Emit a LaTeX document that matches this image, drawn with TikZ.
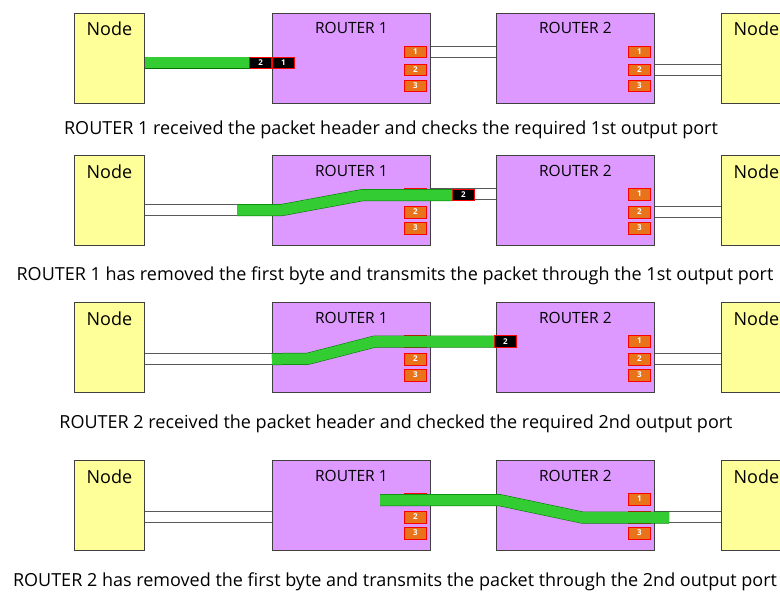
\documentclass[tikz,border=0pt]{standalone}
\usepackage{fontspec}
\setmainfont{Open Sans}
\usetikzlibrary{positioning}

\definecolor{hostyellow}{HTML}{FFFF99}
\definecolor{rtrpink}{HTML}{DD99FF}
\definecolor{portorange}{HTML}{E8731A}
\definecolor{pktgreen}{HTML}{33CC33}

\tikzset{
  box/.style={draw=black!75, line width=0.8pt, minimum height=90pt,
    anchor=north west, inner sep=0pt},
  host/.style={box, fill=hostyellow, minimum width=70pt},
  router/.style={box, fill=rtrpink, minimum width=158pt},
  hosttext/.style={anchor=base, yshift=-23pt, font=\fontsize{18}{20}\selectfont},
  rtrtext/.style={anchor=base, yshift=-21pt, font=\fontsize{15.5}{17}\selectfont},
  port/.style={draw=red, line width=0.7pt, fill=portorange, text=white,
    font=\fontsize{8}{8}\selectfont\bfseries, minimum width=22pt,
    minimum height=11.5pt, inner sep=0pt, anchor=north east},
  hdr/.style={port, fill=black, anchor=west},
  wire/.style={draw=black!65, line width=0.9pt, double=white, double distance=10pt},
  pkt/.style={draw=green!45!black, line width=0.5pt, double=pktgreen, double distance=11pt},
  caption/.style={font=\fontsize{18}{20}\selectfont}
}

\begin{document}
\begin{tikzpicture}[x=1pt, y=-1pt]
  \useasboundingbox (0,0) rectangle (780,594);

  % four snapshots of the same network
  \foreach \i/\t in {1/13, 2/155, 3/302, 4/460} {
    \node[host, label={[hosttext]north:Node}] (N\i) at (74,\t) {};
    \node[router, label={[rtrtext]north:ROUTER 1}] (A\i) at (272,\t) {};
    \node[router, label={[rtrtext]north:ROUTER 2}] (B\i) at (496,\t) {};
    \node[host, label={[hosttext]north:Node}] (M\i) at (721,\t) {};
    \foreach \p/\d in {1/33, 2/51, 3/67} {
      \node[port] (A\i-\p) at ([xshift=-4pt, yshift=-\d pt]A\i.north east) {\p};
      \node[port] (B\i-\p) at ([xshift=-4pt, yshift=-\d pt]B\i.north east) {\p};
    }
  }

  % row 1: header arrives at router 1
  \draw[wire] (A1-1 -| A1.east) -- (A1-1 -| B1.west);
  \draw[wire] (B1-2 -| B1.east) -- (B1-2 -| M1.west);
  \node[hdr] (H1b) at (A1.west |- 0,63) {1};
  \node[hdr, left=0pt of H1b] (H1a) {2};
  \draw[pkt] (N1.east |- H1a) -- (H1a.west);

  % row 2: first byte gone, packet leaves through port 1
  \coordinate (S2) at (237,210);
  \draw[wire] (N2.east |- S2) -- (S2);
  \draw[wire] (A2-1 -| A2.east) -- (A2-1 -| B2.west);
  \draw[wire] (B2-2 -| B2.east) -- (B2-2 -| M2.west);
  \node[hdr] (H2) at (452,195) {2};
  \draw[pkt] (S2) -- (282,210) -- (363,195) -- (H2.west);

  % row 3: header arrives at router 2
  \draw[wire] (N3.east |- A3-2) -- (A3-2 -| A3.west);
  \draw[wire] (B3-2 -| B3.east) -- (B3-2 -| M3.west);
  \node[hdr] (H3) at (494,341.5) {2};
  \draw[pkt] (A3-2 -| A3.west) -- (308,358.75) -- (375,341.5) -- (H3.west);

  % row 4: packet leaves router 2 through port 2
  \draw[wire] (N4.east |- A4-2) -- (A4-2 -| A4.west);
  \draw[wire] (B4-2 -| B4.east) -- (B4-2 -| M4.west);
  \draw[pkt] (380,500) -- (499,500) -- (582,517.5) -- (669,517.5);

  \node[caption] (c1) at (391,130) {ROUTER 1 received the packet header and checks the required 1st output port};
  \node[caption] (c2) at (395,276) {ROUTER 1 has removed the first byte and transmits the packet through the 1st output port};
  \node[caption] (c3) at (396,424) {ROUTER 2 received the packet header and checked the required 2nd output port};
  \node[caption] (c4) at (395,582) {ROUTER 2 has removed the first byte and transmits the packet through the 2nd output port};
\end{tikzpicture}
\end{document}
